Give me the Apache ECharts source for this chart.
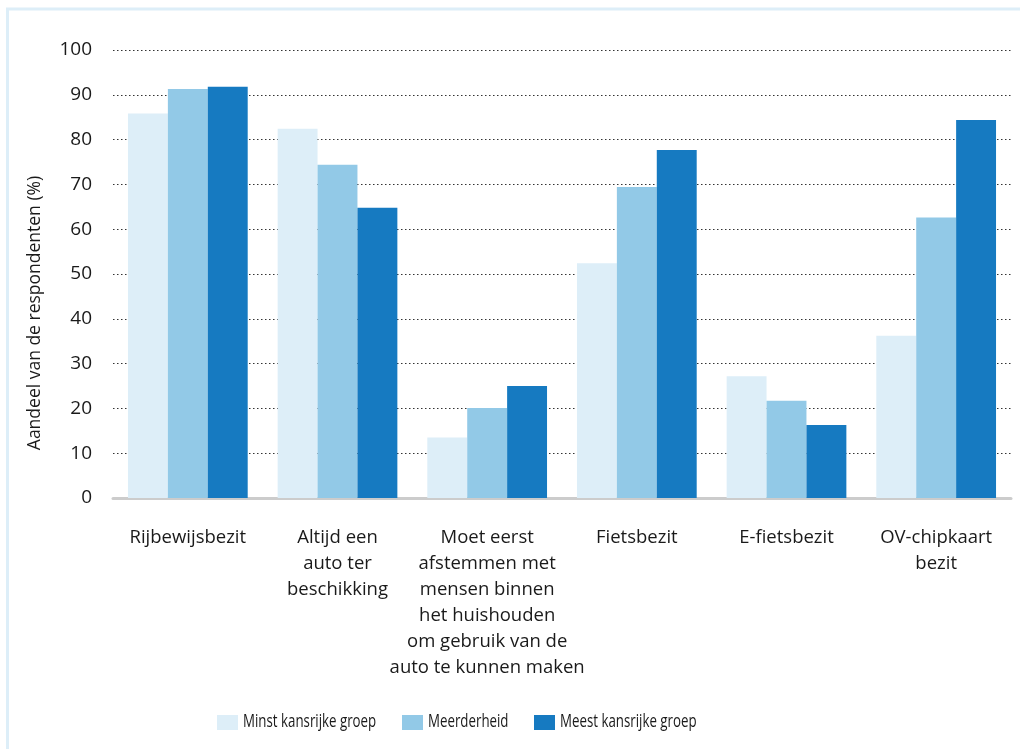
<!DOCTYPE html>
<html>
<head>
<meta charset="utf-8">
<script src="https://cdn.jsdelivr.net/npm/echarts@6/dist/echarts.min.js"></script>
<style>
  html, body { margin: 0; padding: 0; background: #ffffff; }
  #chart { width: 1020px; height: 749px; }
</style>
</head>
<body>
<div id="chart"></div>
<script>
// Categories (x axis), with manual line breaks
const categories = [
  'Rijbewijsbezit',
  'Altijd een\nauto ter\nbeschikking',
  'Moet eerst\nafstemmen met\nmensen binnen\nhet huishouden\nom gebruik van de\nauto te kunnen maken',
  'Fietsbezit',
  'E-fietsbezit',
  'OV-chipkaart\nbezit'
];

// Share of respondents (%) per group
const seriesNames = ['Minst kansrijke groep', 'Meerderheid', 'Meest kansrijke groep'];
const minstKansrijk = [85.8, 82.4, 13.5, 52.4, 27.2, 36.2];
const meerderheid   = [91.3, 74.4, 20.1, 69.4, 21.7, 62.6];
const meestKansrijk = [91.8, 64.8, 25.0, 77.7, 16.3, 84.4];

const yTicks = [0, 10, 20, 30, 40, 50, 60, 70, 80, 90, 100];
const yAxisTitle = 'Aandeel van de respondenten (%)';

const colors = ['#ddeef8', '#92c9e7', '#167ac1'];
const FONT = '"Open Sans", "Noto Sans", sans-serif';
const TEXT_COLOR = '#1a1a1a';

const chart = echarts.init(document.getElementById('chart'), null, { renderer: 'canvas' });

const seriesData = [minstKansrijk, meerderheid, meestKansrijk];

// Legend drawn as a row of swatches with condensed labels
const legendSwatchX = [217, 402, 534];
const legendTop = 715;
const legendItems = [];
seriesNames.forEach((name, i) => {
  legendItems.push({
    type: 'rect',
    shape: { x: legendSwatchX[i], y: legendTop, width: 21, height: 15 },
    style: { fill: colors[i] },
    silent: true
  });
  legendItems.push({
    type: 'text',
    x: legendSwatchX[i] + 26,
    y: legendTop + 7,
    scaleX: 0.7,
    style: {
      text: name,
      fontFamily: FONT,
      fontSize: 19,
      fill: TEXT_COLOR,
      align: 'left',
      verticalAlign: 'middle'
    },
    silent: true
  });
});

chart.setOption({
  animation: false,
  textStyle: { fontFamily: FONT },
  color: colors,
  grid: { left: 113, right: 9, top: 50, bottom: 251, containLabel: false },
  graphic: [
    {
      // light frame along the top and left edge
      type: 'polyline',
      shape: { points: [[7.5, 760], [7.5, 9], [1030, 9]] },
      style: { stroke: '#ddeef8', lineWidth: 3, fill: null },
      silent: true
    },
    {
      type: 'text',
      x: 35,
      y: 313,
      rotation: Math.PI / 2,
      style: {
        text: yAxisTitle,
        fontFamily: FONT,
        fontSize: 17.5,
        fill: TEXT_COLOR,
        align: 'center',
        verticalAlign: 'middle'
      }
    }
  ].concat(legendItems),
  legend: { show: false, data: seriesNames },
  xAxis: {
    type: 'category',
    data: categories,
    axisLine: { show: true, lineStyle: { color: '#cccccc', width: 3 } },
    axisTick: { show: false },
    axisLabel: {
      interval: 0,
      margin: 27,
      fontFamily: FONT,
      fontSize: 18.5,
      lineHeight: 26,
      color: TEXT_COLOR,
      align: 'center'
    },
    splitLine: { show: false }
  },
  yAxis: {
    type: 'value',
    min: yTicks[0],
    max: yTicks[yTicks.length - 1],
    interval: 10,
    axisLine: { show: false },
    axisTick: { show: false },
    axisLabel: {
      margin: 21,
      fontFamily: FONT,
      fontSize: 19,
      color: TEXT_COLOR
    },
    splitLine: {
      show: true,
      lineStyle: { color: '#333333', type: [1.5, 2.5], width: 1 }
    }
  },
  series: seriesNames.map((name, i) => ({
    name: name,
    type: 'bar',
    data: seriesData[i],
    barGap: '0%',
    barCategoryGap: '20%',
    itemStyle: { color: colors[i] },
    z: 3
  }))
});
</script>
</body>
</html>
